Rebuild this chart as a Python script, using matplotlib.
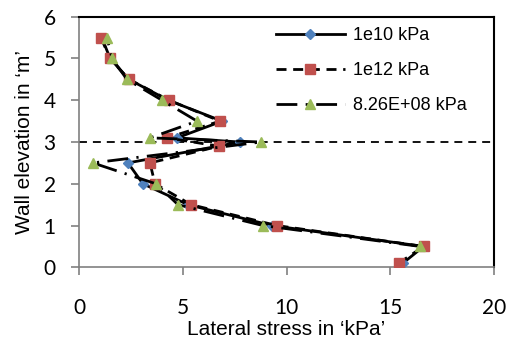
import matplotlib
matplotlib.use("Agg")
import matplotlib.pyplot as plt

# Data (wall elevation in m vs lateral stress in kPa)
elev_1e10 = [0.1, 0.5, 1.0, 1.5, 2.0, 2.5, 3.0, 3.1, 3.5, 4.0, 4.5, 5.0, 5.5]
stress_1e10 = [15.6, 16.6, 9.3, 5.25, 3.08, 2.36, 7.76, 4.72, 6.9, 4.3, 2.4, 1.5, 1.1]

elev_1e12 = [0.1, 0.5, 1.0, 1.5, 2.0, 2.5, 2.9, 3.1, 3.5, 4.0, 4.5, 5.0, 5.5]
stress_1e12 = [15.4, 16.6, 9.54, 5.4, 3.66, 3.42, 6.75, 4.24, 6.8, 4.34, 2.41, 1.49, 1.06]

elev_826 = [0.5, 1.0, 1.5, 2.0, 2.5, 3.0, 3.1, 3.5, 4.0, 4.5, 5.0, 5.5]
stress_826 = [16.43, 8.87, 4.77, 3.71, 0.67, 8.77, 3.42, 5.69, 4.0, 2.31, 1.59, 1.35]

labels = ["1e10 kPa", "1e12 kPa", "8.26E+08 kPa"]
x_ticks = [0, 5, 10, 15, 20]
y_ticks = [0, 1, 2, 3, 4, 5, 6]
ref_elev = 3.0

fig = plt.figure(figsize=(5.23, 3.41), dpi=100)
ax = fig.add_axes([0.151, 0.216, 0.794, 0.735])

ax.axhline(ref_elev, color="black", lw=1.3, ls=(0, (4.4, 3.3)), zorder=1)

ax.plot(stress_1e10, elev_1e10, color="black", lw=2.0, ls="-",
        marker="D", ms=5, mfc="#4F81BD", mec="#4F81BD", label=labels[0], zorder=3)
ax.plot(stress_1e12, elev_1e12, color="black", lw=2.0, ls=(0, (3.6, 2.4)),
        marker="s", ms=6.5, mfc="#C0504D", mec="#C0504D", label=labels[1], zorder=4)
ax.plot(stress_826, elev_826, color="black", lw=2.0, ls=(0, (7.5, 3, 0.8, 3)),
        marker="^", ms=7, mfc="#9BBB59", mec="#9BBB59", label=labels[2], zorder=5)

ax.set_xlim(0, 20)
ax.set_ylim(0, 6)
ax.set_xticks(x_ticks)
ax.set_yticks(y_ticks)

for s in ["left", "bottom"]:
    ax.spines[s].set_color("#808080")
    ax.spines[s].set_linewidth(1.2)
for s in ["top", "right"]:
    ax.spines[s].set_color("black")
    ax.spines[s].set_linewidth(1.5)

ax.tick_params(axis="both", direction="out", length=5.8, width=1.2, color="#808080",
               labelsize=15)
ax.tick_params(axis="x", pad=16)
ax.tick_params(axis="y", pad=11)
for lab in ax.get_xticklabels() + ax.get_yticklabels():
    lab.set_fontfamily("Lato")

ax.set_xlabel("Lateral stress in \u2018kPa\u2019", fontsize=15, family="Liberation Sans", labelpad=2)
ax.set_ylabel("Wall elevation in \u2018m\u2019", fontsize=15, family="Liberation Sans", labelpad=7)

leg = fig.legend(loc="upper left", bbox_to_anchor=(276 / 523, 1 - 27 / 341), frameon=False,
                 prop={"family": "Liberation Sans", "size": 13}, handlelength=3.8,
                 labelspacing=1.0, borderaxespad=0, borderpad=0, handletextpad=0.45,
                 numpoints=1)

fig.savefig("out.png", dpi=100)
